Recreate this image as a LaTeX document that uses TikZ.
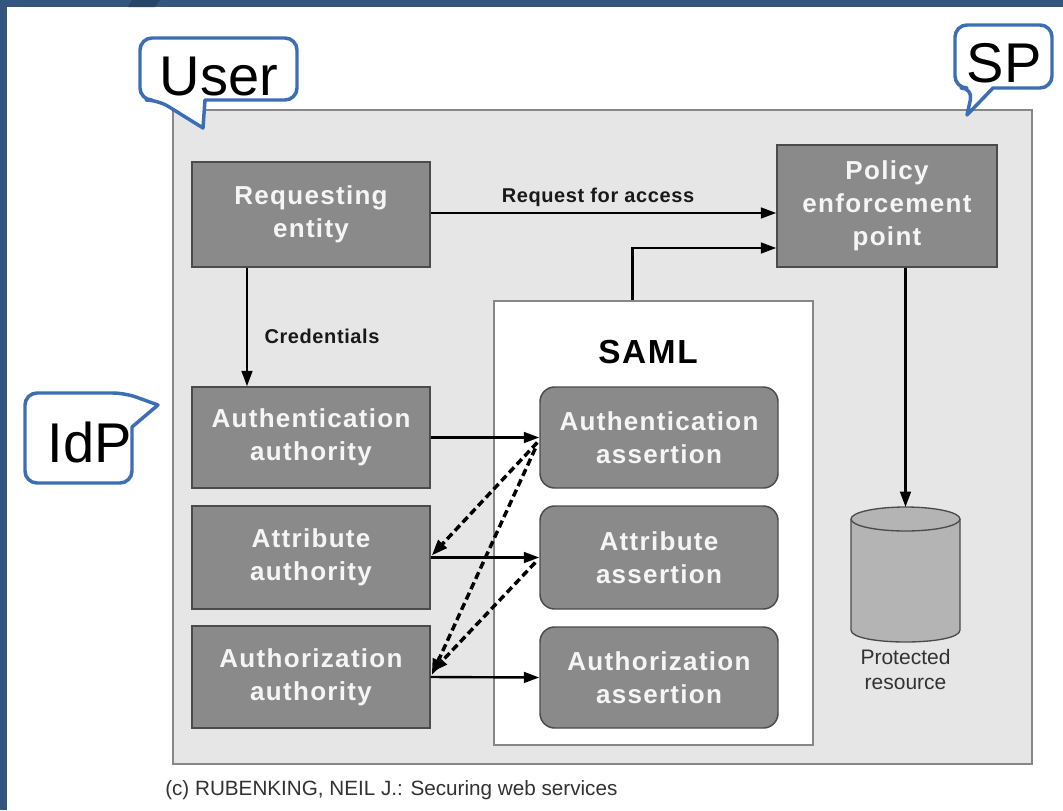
\documentclass[tikz,border=0pt]{standalone}
\usepackage{fontspec}
\setmainfont{Liberation Sans}
\newfontfamily\boxfont[LetterSpace=5]{Liberation Sans}
\newfontfamily\lblfont[LetterSpace=3]{Liberation Sans}
\usetikzlibrary{arrows.meta,calc}
\definecolor{slide}{RGB}{52,86,126}
\definecolor{slidedark}{RGB}{40,68,102}
\definecolor{outerfill}{RGB}{230,230,230}
\definecolor{outerline}{RGB}{135,135,135}
\definecolor{boxfill}{RGB}{138,138,138}
\definecolor{boxline}{RGB}{75,75,75}
\definecolor{boxtext}{RGB}{245,245,245}
\definecolor{cylfill}{RGB}{180,180,180}
\definecolor{callblue}{RGB}{60,110,180}
\definecolor{lbltext}{RGB}{25,25,25}
\definecolor{captext}{RGB}{50,50,50}
\tikzset{
  authbox/.style={draw=boxline, fill=boxfill, line width=1.1pt, minimum width=178.5pt,
    text=boxtext, font=\boxfont\bfseries\fontsize{19.5}{24.75}\selectfont,
    align=center, inner sep=0pt},
  assertbox/.style={authbox, rounded corners=11pt},
  arr/.style={-{Triangle[length=11.5pt,width=8pt]}, line width=1.8pt, draw=black},
  dasharr/.style={-{Triangle[length=12pt,width=8.5pt]}, line width=2.6pt,
    dash pattern=on 5.5pt off 3pt, draw=black},
  lbl/.style={font=\lblfont\bfseries\fontsize{15}{18}\selectfont, text=lbltext, inner sep=0pt},
  bubble/.style={draw=callblue, line width=2.6pt, fill=white, line join=round},
  bubbletext/.style={font=\fontsize{42}{50}\selectfont, text=black, inner sep=0pt, anchor=base}
}
\begin{document}
\begin{tikzpicture}[x=0.75pt,y=-0.75pt]
\useasboundingbox (0,0) rectangle (1063,810);
\fill[white] (0,0) rectangle (1063,810);
% slide frame
\fill[slide] (0,0) rectangle (1063,7);
\fill[slide] (0,0) rectangle (7,810);
\fill[slidedark] (132,0) -- (160,0) -- (155,7) -- (128,7) -- cycle;

% outer grey panel
\draw[fill=outerfill, draw=outerline, line width=1.3pt] (173,110) rectangle (1032,764);

% SAML container
\node[draw=outerline, fill=white, line width=1.2pt, minimum width=239.25pt, minimum height=333pt, inner sep=0pt] (saml) at (653.5,523) {};
\node[font=\boxfont\bfseries\fontsize{25}{28}\selectfont, text=black, inner sep=0pt] (samltitle) at (648,352) {SAML};

% boxes
\node[authbox, minimum height=78.75pt] (req) at (311,214.5) {Requesting\\entity};
\node[authbox, minimum width=165pt, minimum height=91.5pt] (pep) at (887,206) {Policy\\enforcement\\point};
\node[authbox, minimum height=75.75pt] (authnA) at (311,437.5) {Authentication\\authority};
\node[authbox, minimum height=77.25pt] (attrA) at (311,557.5) {Attribute\\authority};
\node[authbox, minimum height=76.5pt] (authzA) at (311,677) {Authorization\\authority};
\node[assertbox, minimum height=75.75pt] (asAuthn) at (659,437.5) {Authentication\\assertion};
\node[assertbox, minimum height=77.25pt] (asAttr) at (659,557.5) {Attribute\\assertion};
\node[assertbox, minimum height=75.75pt] (asAuthz) at (659,677.5) {Authorization\\assertion};

% protected resource cylinder
\coordinate (cyl) at (905.5,507);
\filldraw[fill=cylfill, draw=boxline, line width=1pt]
  (851,519) -- (851,630) .. controls (851,646) and (960,646) .. (960,630) -- (960,519);
\filldraw[fill=cylfill, draw=boxline, line width=1pt] (905.5,519) ellipse [x radius=54.5, y radius=12];
\node[align=center, font=\fontsize{15.75}{18.75}\selectfont, text=captext, inner sep=0pt] (prot) at (905.5,669) {Protected\\resource};

% connectors
\draw[arr] (req.east |- 0,213) -- (pep.west |- 0,213);
\node[lbl] (lreq) at (598,197) {Request for access};
\draw[arr] ($(saml.north)+(-21,0)$) |- ($(pep.west)+(0,42)$);
\draw[arr] (req.south -| 247,0) -- (authnA.north -| 247,0);
\node[lbl] (lcred) at (322,336) {Credentials};
\draw[arr] (pep.south -| cyl) -- (cyl);

\draw[arr] (authnA.east) -- (asAuthn.west);
\draw[arr] (attrA.east) -- (asAttr.west);
\draw[arr] (authzA.east) -- (asAuthz.west);

\draw[dasharr] ($(asAuthn.west)+(-2,5)$) -- ($(attrA.east)+(1,-2)$);
\draw[dasharr] ($(asAuthn.west)+(-4,11)$) -- ($(authzA.east)+(1,-2)$);
\draw[dasharr] ($(asAttr.west)+(-4,5)$) -- ($(authzA.east)+(1,-5)$);

% callouts
\draw[bubble] (205,100) [rounded corners=9pt] -- (297,100) -- (297,38) -- (140,38) -- (140,100) -- (158,100) [sharp corners] -- (203,128) -- cycle;
\node[bubbletext] (user) at (219,95) {User};

\draw[bubble] (993,88) [rounded corners=9pt] -- (1052,88) -- (1052,25) -- (955,25) -- (955,88) -- (973,88) [sharp corners] -- (967,115) -- cycle;
\node[bubbletext] (sp) at (1004,82) {SP};

\draw[bubble] (158,405) -- (132,427) [rounded corners=9pt] -- (132,483) -- (25,483) -- (25,393) -- (125,393) [sharp corners] -- cycle;
\node[bubbletext] (idp) at (90,462) {IdP};

% caption
\node[anchor=base west, font=\fontsize{15.5}{18}\selectfont, text=captext, inner sep=0pt] (cap) at (165,795) {(c) RUBENKING, NEIL J.: Securing web services};
\end{tikzpicture}
\end{document}
